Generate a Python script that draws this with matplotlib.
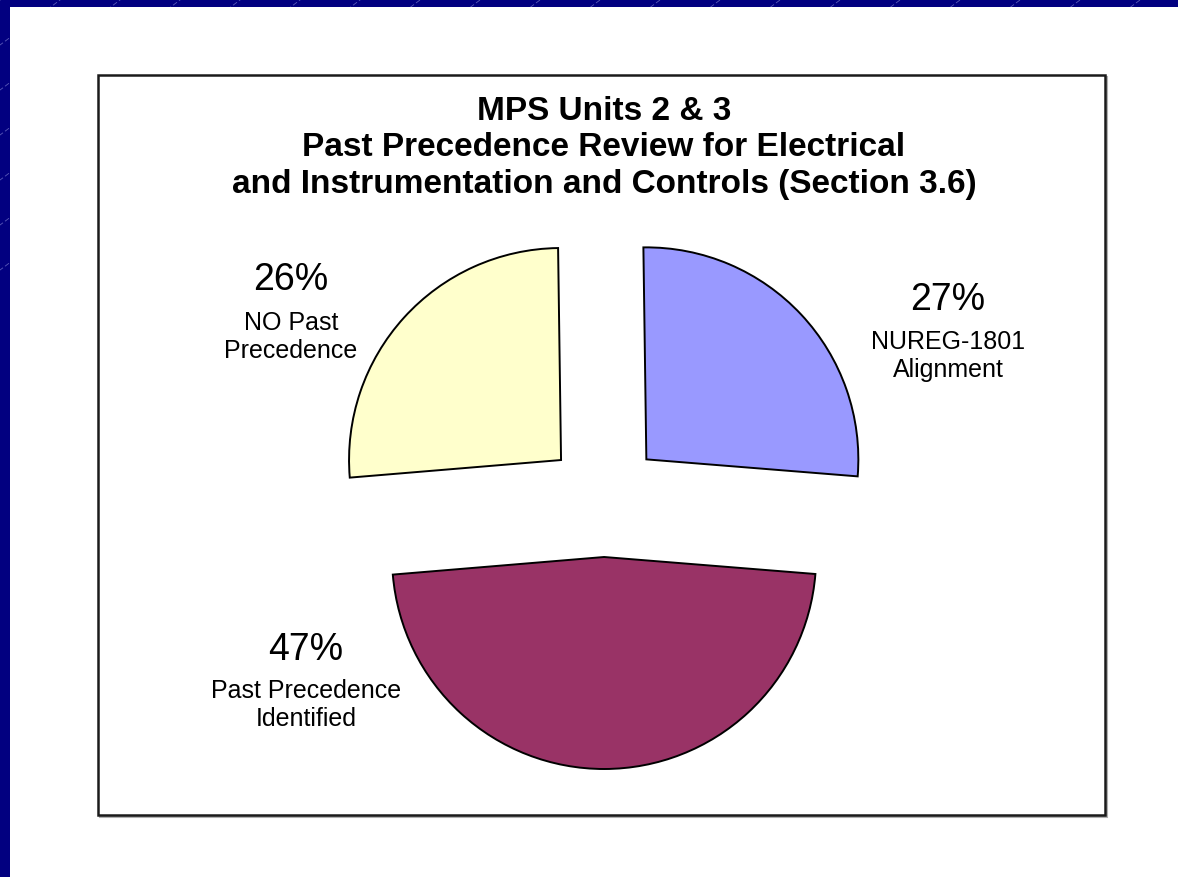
import matplotlib
matplotlib.use("Agg")
import matplotlib.pyplot as plt
from matplotlib.patches import Rectangle
import numpy as np

# ---- data ----
categories = ["NUREG-1801\nAlignment", "Past Precedence\nIdentified", "NO Past\nPrecedence"]
values = [26.5, 47.4, 26.1]          # shares (labels are rounded)
pct_labels = ["27%", "47%", "26%"]
colors = ["#9999FF", "#993366", "#FFFFCC"]
title_lines = ["MPS Units 2 & 3",
               "Past Precedence Review for Electrical",
               "and Instrumentation and Controls (Section 3.6)"]

W, H = 1178, 877
fig = plt.figure(figsize=(W / 100, H / 100), dpi=100)
fig.patch.set_facecolor("white")
ax = fig.add_axes([0, 0, 1, 1])


def Y(py):
    return H - np.asarray(py, dtype=float)


# ---- slide background strips (top and left) ----
navy = "#020080"
top_strip = Rectangle((0, H - 7), W, 7, facecolor=navy, edgecolor="none", zorder=0)
left_strip = Rectangle((0, 0), 10, H, facecolor=navy, edgecolor="none", zorder=0)
ax.add_patch(top_strip)
ax.add_patch(left_strip)
for k in range(-20, 40):
    x0 = k * 60
    px = np.array([x0 - 400, x0 + 400], dtype=float)
    py = -0.75 * (px - x0)
    for clip in [(0, H - 7, W, 7), (0, 0, 10, H)]:
        ln, = ax.plot(px, Y(py), color="#5a5ab8", lw=0.6, zorder=1, ls=(0, (6, 3)))
        ln.set_clip_path(Rectangle(clip[:2], clip[2], clip[3], transform=ax.transData))

# ---- chart box with shadow ----
bx0, by0, bx1, by1 = 98, 75, 1105, 815
ax.add_patch(Rectangle((bx0 + 2, H - by1 - 2), bx1 - bx0, by1 - by0,
                       facecolor="none", edgecolor="#b0b0b0", lw=1.5, zorder=1))
ax.add_patch(Rectangle((bx0, H - by1), bx1 - bx0, by1 - by0,
                       facecolor="white", edgecolor="#1a1a1a", lw=1.8, zorder=2))

# ---- title ----
ax.text(604, H - 148, "\n".join(title_lines), ha="center", va="center",
        fontsize=24, fontweight="bold", family="Liberation Sans",
        linespacing=1.25, zorder=5)

# ---- pie ----
cx, cy, r, ex = 604, 499, 212, 58
wedges, _ = ax.pie(values, colors=colors, startangle=90.8, counterclock=False,
                   radius=r, center=(cx, H - cy), explode=[ex] * len(values),
                   wedgeprops=dict(edgecolor="black", linewidth=1.4),
                   frame=True)
for w in wedges:
    w.set_zorder(3)

ax.set_xlim(0, W)
ax.set_ylim(0, H)
ax.set_aspect("equal")
ax.axis("off")

# ---- labels ----
label_pos = [(948, 300, 356), (306, 650, 705), (291, 280, 337)]
for (lx, py_pct, py_cat), pct, cat in zip(label_pos, pct_labels, categories):
    ax.text(lx, H - py_pct, pct, ha="center", va="center", fontsize=27,
            family="Liberation Sans", zorder=5)
    ax.text(lx, H - py_cat, cat, ha="center", va="center", fontsize=18,
            family="Liberation Sans", linespacing=1.2, zorder=5)

fig.savefig("out.png", dpi=100, facecolor="white")
